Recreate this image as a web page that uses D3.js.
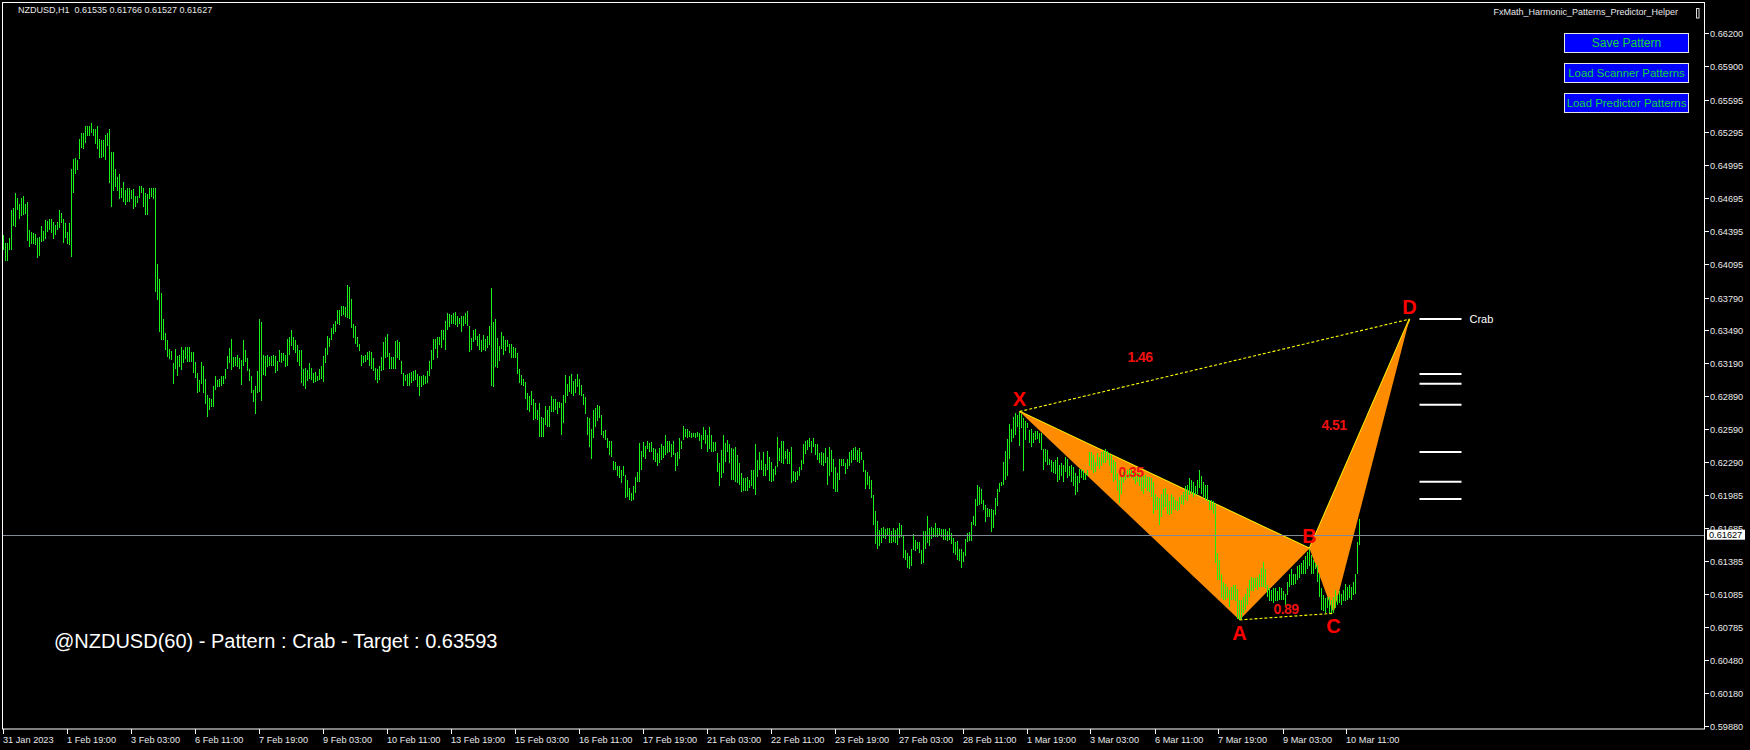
<!DOCTYPE html>
<html><head><meta charset="utf-8">
<script src="https://cdn.jsdelivr.net/npm/d3@7"></script>
<style>html,body{margin:0;padding:0;background:#000;overflow:hidden}</style>
</head><body>
<svg id="c" width="1750" height="750"></svg>
<script>
// ---------------- DATA ----------------
const symbolHeader = "NZDUSD,H1  0.61535 0.61766 0.61527 0.61627";
const indicatorName = "FxMath_Harmonic_Patterns_Predictor_Helper";
const buttonLabels = ["Save Pattern", "Load Scanner Patterns", "Load Predictor Patterns"];
const currentPrice = 0.61627;
const currentPriceLabel = "0.61627";
const patternText = "@NZDUSD(60) - Pattern : Crab - Target : 0.63593";

// hourly bars (index 0 = 31 Jan 2023 11:00), high / low
const barHigh = [
0.6436,0.6429,0.6429,0.6433,0.6459,0.6461,0.6474,0.6470,0.6464,0.6470,
0.6472,0.6464,0.6466,0.6441,0.6439,0.6438,0.6437,0.6433,0.6434,0.6444,
0.6440,0.6450,0.6449,0.6451,0.6451,0.6448,0.6445,0.6448,0.6459,0.6456,
0.6451,0.6447,0.6439,0.6447,0.6496,0.6505,0.6506,0.6504,0.6524,0.6529,
0.6529,0.6535,0.6535,0.6535,0.6538,0.6533,0.6533,0.6535,0.6524,0.6523,
0.6523,0.6527,0.6529,0.6533,0.6512,0.6512,0.6496,0.6489,0.6492,0.6479,
0.6484,0.6477,0.6479,0.6479,0.6477,0.6478,0.6472,0.6472,0.6481,0.6481,
0.6479,0.6474,0.6473,0.6479,0.6479,0.6479,0.6479,0.6410,0.6396,0.6383,
0.6359,0.6347,0.6340,0.6332,0.6330,0.6319,0.6332,0.6326,0.6327,0.6334,
0.6331,0.6334,0.6334,0.6334,0.6329,0.6329,0.6320,0.6310,0.6304,0.6320,
0.6317,0.6305,0.6290,0.6287,0.6286,0.6298,0.6307,0.6304,0.6305,0.6307,
0.6307,0.6314,0.6326,0.6333,0.6341,0.6325,0.6325,0.6327,0.6324,0.6322,
0.6340,0.6331,0.6324,0.6314,0.6307,0.6295,0.6298,0.6312,0.6359,0.6357,
0.6327,0.6326,0.6327,0.6325,0.6326,0.6327,0.6326,0.6321,0.6331,0.6328,
0.6328,0.6327,0.6341,0.6343,0.6349,0.6343,0.6340,0.6336,0.6331,0.6331,
0.6314,0.6315,0.6313,0.6319,0.6315,0.6310,0.6311,0.6307,0.6314,0.6317,
0.6326,0.6333,0.6344,0.6342,0.6351,0.6355,0.6358,0.6368,0.6368,0.6371,
0.6371,0.6370,0.6390,0.6389,0.6378,0.6355,0.6353,0.6343,0.6337,0.6327,
0.6326,0.6327,0.6329,0.6330,0.6329,0.6324,0.6315,0.6314,0.6317,0.6325,
0.6338,0.6343,0.6346,0.6328,0.6325,0.6325,0.6339,0.6340,0.6338,0.6321,
0.6310,0.6308,0.6309,0.6310,0.6311,0.6312,0.6313,0.6309,0.6307,0.6307,
0.6308,0.6307,0.6312,0.6321,0.6331,0.6341,0.6341,0.6343,0.6343,0.6349,
0.6349,0.6358,0.6365,0.6364,0.6363,0.6365,0.6366,0.6362,0.6360,0.6362,
0.6362,0.6365,0.6367,0.6353,0.6342,0.6349,0.6350,0.6344,0.6346,0.6340,
0.6345,0.6341,0.6344,0.6353,0.6388,0.6357,0.6359,0.6342,0.6335,0.6348,
0.6344,0.6340,0.6340,0.6337,0.6337,0.6334,0.6333,0.6328,0.6314,0.6308,
0.6305,0.6302,0.6292,0.6289,0.6294,0.6286,0.6283,0.6276,0.6283,0.6270,
0.6269,0.6280,0.6276,0.6280,0.6289,0.6286,0.6286,0.6284,0.6284,0.6283,
0.6290,0.6308,0.6300,0.6307,0.6309,0.6303,0.6305,0.6309,0.6305,0.6299,
0.6291,0.6288,0.6270,0.6269,0.6259,0.6276,0.6278,0.6281,0.6280,0.6272,
0.6257,0.6258,0.6251,0.6248,0.6248,0.6230,0.6229,0.6225,0.6225,0.6222,
0.6225,0.6217,0.6213,0.6205,0.6201,0.6207,0.6215,0.6220,0.6246,0.6239,
0.6247,0.6244,0.6248,0.6246,0.6247,0.6242,0.6241,0.6237,0.6242,0.6245,
0.6244,0.6254,0.6248,0.6248,0.6245,0.6248,0.6237,0.6238,0.6251,0.6248,
0.6262,0.6259,0.6259,0.6257,0.6255,0.6255,0.6255,0.6256,0.6255,0.6254,
0.6261,0.6258,0.6254,0.6261,0.6254,0.6247,0.6247,0.6237,0.6228,0.6240,
0.6254,0.6246,0.6249,0.6245,0.6242,0.6241,0.6243,0.6235,0.6228,0.6219,
0.6214,0.6214,0.6215,0.6213,0.6222,0.6222,0.6245,0.6231,0.6238,0.6231,
0.6238,0.6227,0.6239,0.6234,0.6229,0.6223,0.6225,0.6252,0.6242,0.6248,
0.6248,0.6239,0.6241,0.6238,0.6243,0.6221,0.6220,0.6221,0.6224,0.6231,
0.6245,0.6248,0.6249,0.6251,0.6248,0.6251,0.6245,0.6245,0.6237,0.6238,
0.6237,0.6242,0.6234,0.6243,0.6240,0.6232,0.6224,0.6219,0.6232,0.6232,
0.6232,0.6228,0.6232,0.6238,0.6240,0.6242,0.6243,0.6240,0.6242,0.6238,
0.6231,0.6222,0.6220,0.6216,0.6213,0.6199,0.6184,0.6175,0.6167,0.6169,
0.6170,0.6168,0.6169,0.6169,0.6166,0.6169,0.6167,0.6169,0.6173,0.6172,
0.6162,0.6149,0.6146,0.6143,0.6150,0.6163,0.6158,0.6156,0.6156,0.6149,
0.6166,0.6166,0.6180,0.6169,0.6170,0.6169,0.6173,0.6169,0.6169,0.6168,
0.6168,0.6168,0.6166,0.6169,0.6164,0.6160,0.6156,0.6157,0.6150,0.6150,
0.6147,0.6159,0.6164,0.6165,0.6174,0.6180,0.6195,0.6208,0.6206,0.6204,
0.6194,0.6190,0.6187,0.6186,0.6186,0.6185,0.6196,0.6204,0.6210,0.6211,
0.6229,0.6239,0.6250,0.6264,0.6259,0.6270,0.6274,0.6272,0.6275,0.6273,
0.6269,0.6266,0.6265,0.6258,0.6259,0.6255,0.6257,0.6257,0.6255,0.6255,
0.6241,0.6241,0.6240,0.6232,0.6231,0.6229,0.6231,0.6234,0.6226,0.6228,
0.6226,0.6234,0.6232,0.6225,0.6226,0.6224,0.6219,0.6216,0.6223,0.6223,
0.6222,0.6219,0.6222,0.6238,0.6238,0.6235,0.6229,0.6237,0.6234,0.6238,
0.6239,0.6241,0.6239,0.6237,0.6235,0.6231,0.6229,0.6219,0.6213,0.6216,
0.6220,0.6222,0.6222,0.6223,0.6222,0.6220,0.6220,0.6219,0.6219,0.6217,
0.6216,0.6217,0.6215,0.6215,0.6214,0.6211,0.6200,0.6197,0.6196,0.6200,
0.6204,0.6205,0.6200,0.6193,0.6200,0.6197,0.6194,0.6193,0.6197,0.6199,
0.6202,0.6207,0.6208,0.6214,0.6213,0.6211,0.6207,0.6213,0.6222,0.6216,
0.6211,0.6208,0.6208,0.6194,0.6194,0.6193,0.6191,0.6146,0.6140,0.6127,
0.6120,0.6118,0.6115,0.6112,0.6115,0.6117,0.6117,0.6113,0.6103,0.6103,
0.6106,0.6109,0.6114,0.6121,0.6124,0.6123,0.6123,0.6124,0.6127,0.6132,
0.6138,0.6131,0.6117,0.6114,0.6112,0.6114,0.6114,0.6111,0.6115,0.6114,
0.6111,0.6109,0.6120,0.6127,0.6131,0.6127,0.6127,0.6134,0.6135,0.6137,
0.6140,0.6143,0.6147,0.6150,0.6144,0.6140,0.6137,0.6135,0.6127,0.6114,
0.6108,0.6105,0.6106,0.6106,0.6103,0.6106,0.6112,0.6108,0.6111,0.6109,
0.6112,0.6118,0.6115,0.6117,0.6115,0.6120,0.6127,0.6156,0.6177
];
const barLow = [
0.6422,0.6412,0.6412,0.6422,0.6422,0.6444,0.6443,0.6459,0.6451,0.6453,
0.6454,0.6455,0.6431,0.6425,0.6428,0.6428,0.6427,0.6415,0.6417,0.6430,
0.6431,0.6432,0.6439,0.6441,0.6438,0.6432,0.6436,0.6441,0.6442,0.6447,
0.6429,0.6433,0.6428,0.6427,0.6416,0.6474,0.6492,0.6495,0.6505,0.6515,
0.6514,0.6520,0.6526,0.6526,0.6529,0.6526,0.6519,0.6514,0.6506,0.6506,
0.6507,0.6504,0.6517,0.6483,0.6462,0.6476,0.6480,0.6476,0.6469,0.6470,
0.6466,0.6463,0.6466,0.6466,0.6469,0.6460,0.6462,0.6465,0.6470,0.6474,
0.6462,0.6454,0.6454,0.6469,0.6471,0.6469,0.6384,0.6377,0.6348,0.6340,
0.6340,0.6331,0.6325,0.6323,0.6322,0.6300,0.6314,0.6307,0.6316,0.6313,
0.6319,0.6323,0.6320,0.6320,0.6320,0.6310,0.6306,0.6292,0.6293,0.6300,
0.6292,0.6282,0.6270,0.6276,0.6279,0.6279,0.6295,0.6297,0.6297,0.6298,
0.6300,0.6305,0.6314,0.6319,0.6313,0.6316,0.6317,0.6316,0.6314,0.6299,
0.6317,0.6320,0.6312,0.6303,0.6292,0.6284,0.6273,0.6292,0.6293,0.6285,
0.6308,0.6307,0.6316,0.6317,0.6317,0.6317,0.6310,0.6312,0.6320,0.6319,
0.6321,0.6316,0.6317,0.6327,0.6335,0.6331,0.6328,0.6320,0.6317,0.6301,
0.6298,0.6296,0.6303,0.6305,0.6304,0.6301,0.6302,0.6303,0.6304,0.6305,
0.6302,0.6319,0.6327,0.6334,0.6340,0.6346,0.6348,0.6355,0.6354,0.6362,
0.6363,0.6361,0.6360,0.6359,0.6351,0.6342,0.6337,0.6334,0.6330,0.6317,
0.6319,0.6320,0.6322,0.6317,0.6314,0.6312,0.6304,0.6301,0.6304,0.6312,
0.6313,0.6324,0.6325,0.6314,0.6314,0.6314,0.6314,0.6324,0.6322,0.6309,
0.6298,0.6303,0.6298,0.6298,0.6301,0.6303,0.6304,0.6297,0.6289,0.6297,
0.6299,0.6300,0.6301,0.6307,0.6314,0.6322,0.6332,0.6324,0.6336,0.6333,
0.6340,0.6331,0.6349,0.6352,0.6355,0.6355,0.6354,0.6352,0.6355,0.6348,
0.6353,0.6355,0.6353,0.6329,0.6331,0.6338,0.6340,0.6335,0.6331,0.6329,
0.6331,0.6330,0.6333,0.6336,0.6298,0.6297,0.6316,0.6315,0.6321,0.6332,
0.6327,0.6330,0.6334,0.6328,0.6324,0.6324,0.6324,0.6309,0.6301,0.6299,
0.6298,0.6286,0.6276,0.6275,0.6281,0.6267,0.6268,0.6267,0.6252,0.6252,
0.6252,0.6263,0.6261,0.6261,0.6275,0.6275,0.6276,0.6273,0.6278,0.6254,
0.6265,0.6283,0.6289,0.6293,0.6291,0.6289,0.6292,0.6297,0.6290,0.6289,
0.6281,0.6273,0.6254,0.6243,0.6232,0.6251,0.6261,0.6266,0.6269,0.6254,
0.6251,0.6249,0.6242,0.6235,0.6234,0.6222,0.6222,0.6216,0.6214,0.6210,
0.6216,0.6196,0.6197,0.6194,0.6193,0.6194,0.6201,0.6211,0.6211,0.6222,
0.6234,0.6232,0.6241,0.6238,0.6238,0.6231,0.6229,0.6225,0.6228,0.6231,
0.6233,0.6235,0.6237,0.6238,0.6234,0.6235,0.6221,0.6225,0.6232,0.6241,
0.6249,0.6252,0.6251,0.6252,0.6251,0.6252,0.6251,0.6252,0.6248,0.6241,
0.6249,0.6245,0.6238,0.6241,0.6238,0.6238,0.6239,0.6220,0.6207,0.6214,
0.6219,0.6229,0.6238,0.6228,0.6213,0.6213,0.6211,0.6210,0.6208,0.6202,
0.6203,0.6203,0.6203,0.6205,0.6207,0.6204,0.6199,0.6215,0.6222,0.6222,
0.6216,0.6216,0.6222,0.6212,0.6211,0.6212,0.6217,0.6224,0.6230,0.6228,
0.6227,0.6232,0.6227,0.6227,0.6210,0.6212,0.6211,0.6213,0.6216,0.6222,
0.6227,0.6236,0.6240,0.6243,0.6237,0.6243,0.6235,0.6231,0.6228,0.6226,
0.6225,0.6228,0.6208,0.6216,0.6220,0.6204,0.6202,0.6202,0.6213,0.6225,
0.6225,0.6218,0.6223,0.6225,0.6228,0.6231,0.6231,0.6229,0.6228,0.6231,
0.6220,0.6204,0.6208,0.6204,0.6196,0.6172,0.6154,0.6150,0.6152,0.6155,
0.6160,0.6159,0.6162,0.6155,0.6155,0.6156,0.6155,0.6153,0.6160,0.6161,
0.6141,0.6140,0.6132,0.6131,0.6134,0.6149,0.6148,0.6150,0.6146,0.6136,
0.6137,0.6150,0.6155,0.6152,0.6159,0.6161,0.6161,0.6161,0.6162,0.6161,
0.6158,0.6158,0.6157,0.6158,0.6154,0.6146,0.6144,0.6140,0.6139,0.6132,
0.6138,0.6143,0.6156,0.6157,0.6157,0.6172,0.6171,0.6189,0.6190,0.6191,
0.6185,0.6174,0.6179,0.6179,0.6165,0.6169,0.6181,0.6189,0.6202,0.6207,
0.6208,0.6213,0.6216,0.6232,0.6247,0.6251,0.6254,0.6261,0.6244,0.6260,
0.6221,0.6249,0.6260,0.6246,0.6243,0.6246,0.6249,0.6250,0.6246,0.6240,
0.6222,0.6229,0.6226,0.6226,0.6220,0.6219,0.6218,0.6211,0.6213,0.6216,
0.6211,0.6220,0.6214,0.6216,0.6211,0.6207,0.6199,0.6202,0.6210,0.6214,
0.6213,0.6213,0.6216,0.6225,0.6222,0.6219,0.6220,0.6225,0.6223,0.6225,
0.6228,0.6228,0.6231,0.6225,0.6219,0.6211,0.6213,0.6203,0.6192,0.6200,
0.6210,0.6213,0.6214,0.6214,0.6214,0.6213,0.6209,0.6211,0.6207,0.6203,
0.6200,0.6205,0.6203,0.6202,0.6197,0.6182,0.6185,0.6185,0.6172,0.6179,
0.6185,0.6188,0.6182,0.6181,0.6182,0.6185,0.6185,0.6184,0.6185,0.6191,
0.6190,0.6194,0.6193,0.6199,0.6200,0.6197,0.6199,0.6200,0.6205,0.6200,
0.6197,0.6194,0.6193,0.6185,0.6185,0.6182,0.6137,0.6121,0.6121,0.6105,
0.6103,0.6103,0.6105,0.6097,0.6103,0.6103,0.6102,0.6086,0.6085,0.6086,
0.6091,0.6094,0.6099,0.6106,0.6111,0.6111,0.6114,0.6112,0.6115,0.6115,
0.6115,0.6114,0.6106,0.6102,0.6102,0.6100,0.6102,0.6102,0.6103,0.6103,
0.6103,0.6099,0.6108,0.6115,0.6117,0.6117,0.6118,0.6121,0.6123,0.6127,
0.6127,0.6127,0.6131,0.6134,0.6127,0.6127,0.6131,0.6120,0.6106,0.6094,
0.6093,0.6091,0.6096,0.6091,0.6091,0.6091,0.6096,0.6099,0.6100,0.6099,
0.6102,0.6102,0.6103,0.6105,0.6103,0.6108,0.6109,0.6127,0.6153
];

// x-axis labels every 32 bars
const xTickLabels = ["31 Jan 2023","1 Feb 19:00","3 Feb 03:00","6 Feb 11:00","7 Feb 19:00","9 Feb 03:00",
  "10 Feb 11:00","13 Feb 19:00","15 Feb 03:00","16 Feb 11:00","17 Feb 19:00","21 Feb 03:00","22 Feb 11:00",
  "23 Feb 19:00","27 Feb 03:00","28 Feb 11:00","1 Mar 19:00","3 Mar 03:00","6 Mar 11:00","7 Mar 19:00",
  "9 Mar 03:00","10 Mar 11:00"];
const xTickStep = 32;
// y-axis labels
const yTickLabels = ["0.66200","0.65900","0.65595","0.65295","0.64995","0.64695","0.64395","0.64095",
  "0.63790","0.63490","0.63190","0.62890","0.62590","0.62290","0.61985","0.61685","0.61385","0.61085",
  "0.60785","0.60480","0.60180","0.59880"];

// harmonic pattern points (bar index, price)
const patternNames = ["X","A","B","C","D"];
const patternBars = [508, 618, 653, 665, 703];
const patternPrices = [0.6275, 0.6085, 0.6150, 0.6091, 0.63593];
const patternLabelAbove = [true, false, true, false, true];

// ratio labels
const ratioText = ["1.46","0.35","0.89","4.51"];
const ratioBars = [568.25, 563.75, 641.25, 665.25];
const ratioPrices = [0.63248, 0.62199, 0.60949, 0.62628];

// projected levels
const targetLevels = [0.63593, 0.63093, 0.63004, 0.62813, 0.62382, 0.62111, 0.61953];
const targetStartBar = 708, targetEndBar = 729;
const targetName = "Crab";
const targetNameBar = 733;

// ---------------- DRAW ----------------
const W = 1750, H = 750;
const FONT = "'Liberation Sans', Arial, sans-serif";
const svg = d3.select("#c");
svg.append("rect").attr("width", W).attr("height", H).attr("fill", "#000");

const x = d3.scaleLinear().domain([0, 678]).range([3.5, 1359.5]);
const y = d3.scaleLinear().domain([0.59855, 0.66476]).range([729, 3]);

const P = patternBars.map((b, i) => [x(b), y(patternPrices[i])]);
const [pX, pA, pB, pC, pD] = P;

// yellow edges under triangles
const gPat = svg.append("g");
[[pX, pB], [pB, pD]].forEach(([a, b]) => {
  gPat.append("line").attr("x1", a[0]).attr("y1", a[1]).attr("x2", b[0]).attr("y2", b[1])
    .attr("stroke", "#ffff00").attr("stroke-width", 1.7);
});
// triangles
[[pX, pA, pB], [pB, pC, pD]].forEach(tri => {
  gPat.append("path").attr("d", d3.line()(tri) + "Z").attr("fill", "#ff8c00");
});

// bars
const bars = svg.append("g");
bars.selectAll("line").data(barHigh).join("line")
  .attr("x1", (d, i) => x(i)).attr("x2", (d, i) => x(i))
  .attr("y1", d => y(d)).attr("y2", (d, i) => Math.max(y(barLow[i]), y(d) + 1))
  .attr("stroke", "#1cf01c").attr("stroke-width", 1).attr("shape-rendering", "crispEdges");

// current price line
svg.append("line").attr("x1", 3).attr("x2", 1704).attr("y1", Math.round(y(currentPrice)) + 0.5)
  .attr("y2", Math.round(y(currentPrice)) + 0.5).attr("stroke", "#7f8a96").attr("stroke-width", 1);

// dotted XD and AC
[[pX, pD], [pA, pC]].forEach(([a, b]) => {
  svg.append("line").attr("x1", a[0]).attr("y1", a[1]).attr("x2", b[0]).attr("y2", b[1])
    .attr("stroke", "#ffff00").attr("stroke-width", 1.1).attr("stroke-dasharray", "3,2");
});

// target levels
svg.append("g").selectAll("line").data(targetLevels).join("line")
  .attr("x1", x(targetStartBar)).attr("x2", x(targetEndBar))
  .attr("y1", d => y(d)).attr("y2", d => y(d))
  .attr("stroke", "#ffffff").attr("stroke-width", 2);
svg.append("text").attr("x", x(targetNameBar)).attr("y", y(targetLevels[0])).attr("dy", "0.35em")
  .attr("fill", "#ffffff").attr("font-family", FONT).attr("font-size", 11).text(targetName);

// vertex labels
svg.append("g").selectAll("text").data(patternNames).join("text")
  .attr("x", (d, i) => P[i][0]).attr("y", (d, i) => P[i][1] + (patternLabelAbove[i] ? -5.5 : 20))
  .attr("text-anchor", "middle").attr("fill", "#ff0000").attr("font-family", FONT)
  .attr("font-weight", "bold").attr("font-size", 20).text(d => d);

// ratio labels
svg.append("g").selectAll("text").data(ratioText).join("text")
  .attr("x", (d, i) => x(ratioBars[i])).attr("y", (d, i) => y(ratioPrices[i])).attr("dy", "0.36em")
  .attr("text-anchor", "middle").attr("fill", "#ee1111").attr("font-family", FONT)
  .attr("font-weight", "bold").attr("font-size", 14).attr("letter-spacing", "-0.6px").text(d => d);

// pattern info text
svg.append("text").attr("x", 54).attr("y", 648).attr("fill", "#ffffff")
  .attr("font-family", FONT).attr("font-size", 20).text(patternText);

// frame
svg.append("rect").attr("x", 2.5).attr("y", 2.5).attr("width", 1702).attr("height", 726.5)
  .attr("fill", "none").attr("stroke", "#ffffff").attr("stroke-width", 1);

// y axis ticks & labels
const yAx = svg.append("g");
yTickLabels.forEach(lbl => {
  const yy = Math.round(y(+lbl)) + 0.5;
  yAx.append("line").attr("x1", 1705).attr("x2", 1709).attr("y1", yy).attr("y2", yy)
    .attr("stroke", "#ffffff");
  yAx.append("text").attr("x", 1710).attr("y", yy).attr("dy", "0.35em").attr("fill", "#e8e8e8")
    .attr("font-family", FONT).attr("font-size", 9.2).text(lbl);
});
// current price label (covers the lower part of the neighbouring tick label, as in the source)
const cpY = y(currentPrice);
svg.append("rect").attr("x", 1707).attr("y", cpY - 5).attr("width", 38).attr("height", 10).attr("fill", "#ffffff");
svg.append("text").attr("x", 1709).attr("y", cpY).attr("dy", "0.36em").attr("fill", "#000")
  .attr("font-family", FONT).attr("font-size", 9.2).text(currentPriceLabel);

// x axis ticks & labels
const xAx = svg.append("g");
xTickLabels.forEach((lbl, k) => {
  const xx = Math.round(x(k * xTickStep) - 1) + 0.5;
  xAx.append("line").attr("x1", xx).attr("x2", xx).attr("y1", 729).attr("y2", 734).attr("stroke", "#ffffff");
  xAx.append("text").attr("x", xx - 0.5).attr("y", 742.5).attr("fill", "#e8e8e8")
    .attr("font-family", FONT).attr("font-size", 9.2).text(lbl);
});

// header
svg.append("text").attr("x", 18).attr("y", 13.3).attr("fill", "#e8e8e8")
  .attr("font-family", FONT).attr("font-size", 9).attr("xml:space", "preserve").style("white-space", "pre").text(symbolHeader);
svg.append("text").attr("x", 1678).attr("y", 14.5).attr("text-anchor", "end").attr("fill", "#e8e8e8")
  .attr("font-family", FONT).attr("font-size", 9).text(indicatorName);
svg.append("rect").attr("x", 1696.5).attr("y", 8.5).attr("width", 2.5).attr("height", 9.5)
  .attr("fill", "none").attr("stroke", "#dddddd").attr("stroke-width", 1);

// buttons
const btnTop = [33.5, 63.5, 93.5];
const btnFont = [12, 11.4, 11.4];
buttonLabels.forEach((lbl, i) => {
  svg.append("rect").attr("x", 1564.5).attr("y", btnTop[i]).attr("width", 124).attr("height", 19)
    .attr("fill", "#0000ff").attr("stroke", "#e6e6e6").attr("stroke-width", 1);
  svg.append("text").attr("x", 1626.5).attr("y", btnTop[i] + 9.5).attr("dy", "0.36em")
    .attr("text-anchor", "middle").attr("fill", "#12d43c").attr("font-family", FONT)
    .attr("font-size", btnFont[i]).text(lbl);
});
</script>
</body></html>
